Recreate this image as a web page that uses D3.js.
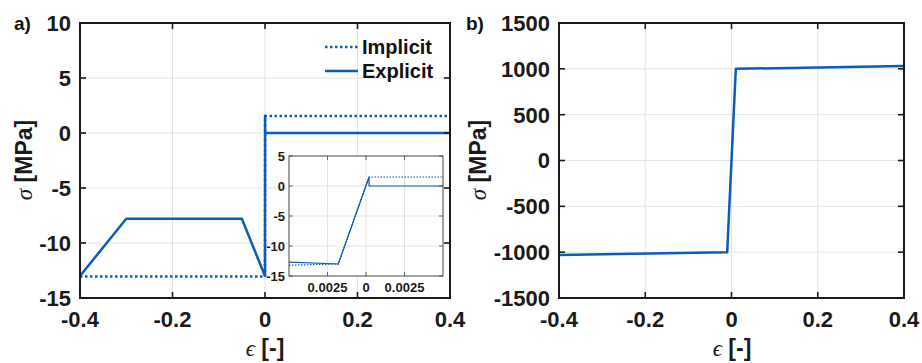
<!DOCTYPE html>
<html>
<head>
<meta charset="utf-8">
<script src="https://cdn.jsdelivr.net/npm/d3@7"></script>
<style>
  body { margin: 0; background: #fff; }
  svg text { font-family: "Liberation Sans", Arial, sans-serif; font-weight: bold; fill: #1a1a1a; }
</style>
</head>
<body>
<div id="chart"></div>
<script>
// panel a) main curves
const explicitA = [[-0.4, -13], [-0.3, -7.8], [-0.05, -7.8], [0, -13], [0.0002, 1.55], [0.0002, 0], [0.4, 0]];
const implicitA = [[-0.4, -13.05], [0, -13.05], [0.0002, 1.55], [0.4, 1.55]];
// inset zoom around zero
const explicitInset = [[-0.005, -12.7], [-0.0018, -13], [0.0002, 1.5], [0.0002, 0], [0.005, 0]];
const implicitInset = [[-0.005, -13.2], [-0.0018, -13], [0.0002, 1.5], [0.005, 1.5]];
// panel b)
const curveB = [[-0.4, -1030], [-0.01, -1000], [0.01, 1000], [0.4, 1030]];

const xTicks = [-0.4, -0.2, 0, 0.2, 0.4];
const yTicksA = [-15, -10, -5, 0, 5, 10];
const yTicksB = [-1500, -1000, -500, 0, 500, 1000, 1500];
const insetXTicks = [-0.0025, 0, 0.0025];
const insetXLabels = ["0.0025", "0", "0.0025"];
const insetYTicks = [-15, -10, -5, 0, 5];

const blue = "#0a5cb5";
const W = 922, H = 363;

// plain hyphen minus like the original figure
const fmt = d => String(d);

const svg = d3.select("#chart").append("svg")
    .attr("width", W)
    .attr("height", H);

function drawGrid(g, x, y, xt, yt) {
    const [x0, x1] = x.range();
    const [y0, y1] = y.range(); // y0 bottom, y1 top
    g.append("g").selectAll("line").data(xt.slice(1, -1)).enter().append("line")
        .attr("x1", d => x(d)).attr("x2", d => x(d))
        .attr("y1", y0).attr("y2", y1)
        .attr("stroke", "#e3e3e3").attr("stroke-width", 1);
    g.append("g").selectAll("line").data(yt.slice(1, -1)).enter().append("line")
        .attr("y1", d => y(d)).attr("y2", d => y(d))
        .attr("x1", x0).attr("x2", x1)
        .attr("stroke", "#e3e3e3").attr("stroke-width", 1);
}

function drawBox(g, x, y, xt, yt, opts) {
    const [x0, x1] = x.range();
    const [y0, y1] = y.range();
    const tl = opts.tick;
    const sw = opts.boxWidth * 0.8;
    g.append("rect")
        .attr("x", x0).attr("y", y1)
        .attr("width", x1 - x0).attr("height", y0 - y1)
        .attr("fill", "none")
        .attr("stroke", opts.boxColor)
        .attr("stroke-width", opts.boxWidth);
    // inward ticks on all four sides
    xt.forEach(d => {
        g.append("line").attr("x1", x(d)).attr("x2", x(d)).attr("y1", y0).attr("y2", y0 - tl)
            .attr("stroke", opts.boxColor).attr("stroke-width", sw);
        g.append("line").attr("x1", x(d)).attr("x2", x(d)).attr("y1", y1).attr("y2", y1 + tl)
            .attr("stroke", opts.boxColor).attr("stroke-width", sw);
    });
    yt.forEach(d => {
        g.append("line").attr("y1", y(d)).attr("y2", y(d)).attr("x1", x0).attr("x2", x0 + tl)
            .attr("stroke", opts.boxColor).attr("stroke-width", sw);
        g.append("line").attr("y1", y(d)).attr("y2", y(d)).attr("x1", x1).attr("x2", x1 - tl)
            .attr("stroke", opts.boxColor).attr("stroke-width", sw);
    });
    // tick labels
    g.append("g").selectAll("text").data(xt).enter().append("text")
        .attr("x", d => x(d))
        .attr("y", y0 + opts.xLabelOffset)
        .attr("text-anchor", "middle")
        .style("font-size", opts.fontSize + "px")
        .text((d, i) => opts.xLabels ? opts.xLabels[i] : fmt(d));
    g.append("g").selectAll("text").data(yt).enter().append("text")
        .attr("x", x0 - opts.yLabelOffset)
        .attr("y", d => y(d))
        .attr("dy", "0.36em")
        .attr("text-anchor", "end")
        .style("font-size", opts.fontSize + "px")
        .text(d => fmt(d));
}

function axisTitles(cx, cyMid, xlabelX) {
    // y title: sigma [MPa]
    const t = svg.append("text")
        .attr("transform", `translate(${cx},${cyMid}) rotate(-90)`)
        .attr("text-anchor", "middle")
        .style("font-size", "23px");
    t.append("tspan").text("σ")
        .style("font-family", "'Liberation Serif', serif")
        .style("font-style", "italic").style("font-weight", "normal");
    t.append("tspan").text(" [MPa]");
    const e = svg.append("text")
        .attr("x", xlabelX).attr("y", 356)
        .attr("text-anchor", "middle")
        .style("font-size", "23px");
    e.append("tspan").text("ϵ")
        .style("font-family", "'Liberation Serif', 'DejaVu Serif', serif")
        .style("font-style", "italic").style("font-weight", "normal");
    e.append("tspan").text(" [-]");
}

const line = (x, y) => d3.line().x(d => x(d[0])).y(d => y(d[1]));

// ---------- panel a ----------
const xa = d3.scaleLinear().domain([-0.4, 0.4]).range([80, 450]);
const ya = d3.scaleLinear().domain([-15, 10]).range([298, 23]);
const ga = svg.append("g");
drawGrid(ga, xa, ya, xTicks, yTicksA);

ga.append("path").datum(implicitA).attr("d", line(xa, ya))
    .attr("fill", "none").attr("stroke", blue).attr("stroke-width", 2.5)
    .attr("stroke-dasharray", "2.5,2.5");
ga.append("path").datum(explicitA).attr("d", line(xa, ya))
    .attr("fill", "none").attr("stroke", blue).attr("stroke-width", 2.5)
    .attr("stroke-linejoin", "round");

drawBox(ga, xa, ya, xTicks, yTicksA, {tick: 6, boxColor: "#1a1a1a", boxWidth: 2,
    fontSize: 22, xLabelOffset: 29, yLabelOffset: 9});

// legend
const leg = ga.append("g");
leg.append("line").attr("x1", 325).attr("x2", 358).attr("y1", 47).attr("y2", 47)
    .attr("stroke", blue).attr("stroke-width", 2.5).attr("stroke-dasharray", "2.5,2.5");
leg.append("line").attr("x1", 325).attr("x2", 358).attr("y1", 71).attr("y2", 71)
    .attr("stroke", blue).attr("stroke-width", 2.5);
leg.append("text").attr("x", 362).attr("y", 47).attr("dy", "0.36em")
    .style("font-size", "20px").style("fill", "#111").text("Implicit");
leg.append("text").attr("x", 362).attr("y", 71).attr("dy", "0.36em")
    .style("font-size", "20px").style("fill", "#111").text("Explicit");

// inset
const xi = d3.scaleLinear().domain([-0.005, 0.005]).range([289, 443]);
const yi = d3.scaleLinear().domain([-15, 5]).range([276, 156]);
const gi = svg.append("g");
gi.append("rect").attr("x", 289).attr("y", 156).attr("width", 154).attr("height", 120).attr("fill", "#fff");
drawGrid(gi, xi, yi, [-0.005].concat(insetXTicks, [0.005]), insetYTicks);
svg.append("clipPath").attr("id", "clipI").append("rect")
    .attr("x", 289).attr("y", 156).attr("width", 154).attr("height", 120);
gi.append("path").datum(implicitInset).attr("d", line(xi, yi))
    .attr("clip-path", "url(#clipI)")
    .attr("fill", "none").attr("stroke", blue).attr("stroke-width", 1.2)
    .attr("stroke-dasharray", "1.5,1.5");
gi.append("path").datum(explicitInset).attr("d", line(xi, yi))
    .attr("clip-path", "url(#clipI)")
    .attr("fill", "none").attr("stroke", blue).attr("stroke-width", 1.2);
drawBox(gi, xi, yi, insetXTicks, insetYTicks, {tick: 4, boxColor: "#444", boxWidth: 1,
    fontSize: 13, xLabelOffset: 16, yLabelOffset: 4, xLabels: insetXLabels});

// ---------- panel b ----------
const xb = d3.scaleLinear().domain([-0.4, 0.4]).range([559, 904]);
const yb = d3.scaleLinear().domain([-1500, 1500]).range([298, 23]);
const gb = svg.append("g");
drawGrid(gb, xb, yb, xTicks, yTicksB);
gb.append("path").datum(curveB).attr("d", line(xb, yb))
    .attr("fill", "none").attr("stroke", blue).attr("stroke-width", 2.5)
    .attr("stroke-linejoin", "round");
drawBox(gb, xb, yb, xTicks, yTicksB, {tick: 6, boxColor: "#1a1a1a", boxWidth: 2,
    fontSize: 22, xLabelOffset: 29, yLabelOffset: 9});

// titles
axisTitles(32, 160, 265);
axisTitles(486, 160, 732);

svg.append("text").attr("x", 14).attr("y", 30).style("font-size", "19px").style("fill", "#111").text("a)");
svg.append("text").attr("x", 466).attr("y", 30).style("font-size", "19px").style("fill", "#111").text("b)");
</script>
</body>
</html>
